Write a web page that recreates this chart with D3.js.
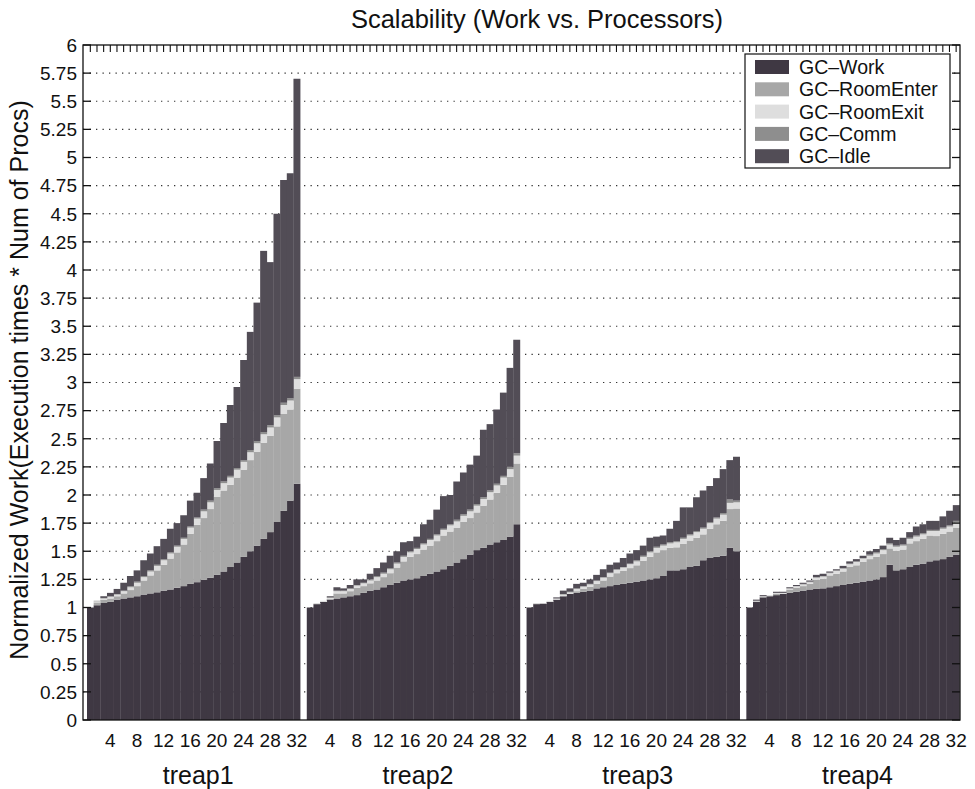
<!DOCTYPE html>
<html><head><meta charset="utf-8">
<script src="https://cdn.jsdelivr.net/npm/d3@7"></script>
<style>body{margin:0;background:#fff}svg{display:block}text{font-family:"Liberation Sans",Arial,Helvetica,sans-serif;fill:#111}</style>
</head><body><svg id="c" width="975" height="789"></svg>
<script>
// ---------- data ----------
const groups = ["treap1", "treap2", "treap3", "treap4"];
const procs = [1,2,3,4,5,6,7,8,9,10,11,12,13,14,15,16,17,18,19,20,21,22,23,24,25,26,27,28,29,30,31,32];
const procTickLabels = [4, 8, 12, 16, 20, 24, 28, 32];
const yTickValues = [0,0.25,0.5,0.75,1,1.25,1.5,1.75,2,2.25,2.5,2.75,3,3.25,3.5,3.75,4,4.25,4.5,4.75,5,5.25,5.5,5.75,6];
const seriesNames = ["GC-Work", "GC-RoomEnter", "GC-RoomExit", "GC-Comm", "GC-Idle"];
const seriesColors = ["#3f3843", "#a7a7a7", "#dedede", "#8e8e8e", "#524d56"];

const work1  = [1.00,1.02,1.04,1.05,1.07,1.08,1.09,1.10,1.115,1.125,1.135,1.15,1.16,1.175,1.19,1.21,1.225,1.245,1.265,1.29,1.32,1.36,1.40,1.45,1.50,1.55,1.61,1.67,1.76,1.86,1.95,2.10];
const enter1 = [0,0.025,0.03,0.03,0.03,0.045,0.065,0.09,0.125,0.16,0.195,0.23,0.275,0.315,0.37,0.445,0.51,0.55,0.61,0.695,0.72,0.73,0.755,0.775,0.81,0.835,0.855,0.855,0.85,0.86,0.81,0.845];
const exit1  = [0,0.01,0.01,0.015,0.015,0.02,0.025,0.03,0.03,0.035,0.04,0.04,0.045,0.05,0.05,0.055,0.055,0.06,0.06,0.06,0.065,0.065,0.07,0.07,0.07,0.075,0.075,0.075,0.08,0.08,0.08,0.085];
const comm1  = [0,0.005,0.005,0.005,0.005,0.005,0.01,0.01,0.01,0.01,0.01,0.01,0.01,0.01,0.01,0.01,0.01,0.015,0.015,0.015,0.015,0.015,0.015,0.015,0.02,0.02,0.02,0.02,0.02,0.02,0.02,0.02];
const idle1  = [0,0,0.015,0.03,0.045,0.07,0.09,0.10,0.14,0.15,0.165,0.18,0.21,0.20,0.20,0.23,0.22,0.28,0.33,0.42,0.52,0.63,0.72,0.89,1.05,1.23,1.61,1.45,1.79,1.98,2.00,2.65];

const work2  = [1.00,1.03,1.05,1.07,1.08,1.09,1.10,1.11,1.13,1.15,1.16,1.18,1.20,1.22,1.24,1.25,1.26,1.28,1.30,1.32,1.34,1.37,1.40,1.43,1.47,1.51,1.53,1.56,1.58,1.60,1.63,1.74];
const enter2 = [0,0,0,0.005,0.045,0.035,0.045,0.065,0.06,0.065,0.08,0.09,0.105,0.135,0.17,0.20,0.215,0.235,0.25,0.27,0.30,0.305,0.31,0.33,0.325,0.335,0.375,0.40,0.44,0.49,0.53,0.54];
const exit2  = [0,0.01,0.01,0.01,0.02,0.02,0.02,0.02,0.025,0.025,0.03,0.03,0.035,0.035,0.04,0.04,0.045,0.045,0.05,0.05,0.05,0.055,0.055,0.055,0.06,0.06,0.06,0.065,0.065,0.065,0.07,0.07];
const comm2  = [0,0,0,0.005,0.005,0.005,0.005,0.005,0.005,0.01,0.01,0.01,0.01,0.01,0.01,0.01,0.01,0.01,0.01,0.01,0.01,0.01,0.015,0.015,0.015,0.015,0.015,0.015,0.015,0.015,0.02,0.02];
const idle2  = [0,0,0,0.01,0.03,0.02,0.03,0.05,0.03,0.05,0.07,0.09,0.11,0.10,0.12,0.09,0.10,0.17,0.17,0.22,0.29,0.26,0.34,0.37,0.40,0.43,0.60,0.59,0.66,0.74,0.88,1.01];

const work3  = [1.00,1.03,1.035,1.05,1.07,1.10,1.12,1.13,1.14,1.15,1.17,1.18,1.19,1.20,1.21,1.22,1.23,1.24,1.25,1.26,1.28,1.33,1.33,1.34,1.36,1.37,1.42,1.44,1.45,1.46,1.53,1.50];
const enter3 = [0,0.005,0,0,0,0,0,0.015,0.025,0.035,0.04,0.06,0.085,0.105,0.115,0.13,0.145,0.175,0.20,0.23,0.23,0.20,0.205,0.225,0.235,0.25,0.23,0.26,0.29,0.31,0.345,0.38];
const exit3  = [0,0.005,0.005,0.01,0.01,0.015,0.015,0.02,0.02,0.02,0.025,0.025,0.03,0.03,0.03,0.035,0.035,0.035,0.04,0.04,0.04,0.04,0.045,0.045,0.045,0.05,0.05,0.05,0.05,0.055,0.055,0.055];
const comm3  = [0,0,0,0,0,0.005,0.005,0.005,0.005,0.005,0.005,0.005,0.005,0.005,0.005,0.005,0.01,0.01,0.01,0.01,0.01,0.01,0.01,0.01,0.01,0.01,0.01,0.01,0.01,0.015,0.03,0.015];
const idle3  = [0,0,0,0,0.01,0.03,0.03,0.04,0.03,0.04,0.05,0.07,0.07,0.06,0.08,0.09,0.09,0.09,0.12,0.09,0.08,0.12,0.18,0.27,0.24,0.30,0.33,0.32,0.35,0.39,0.35,0.39];

const work4  = [1.00,1.05,1.09,1.10,1.11,1.12,1.13,1.14,1.15,1.16,1.165,1.17,1.18,1.19,1.20,1.21,1.22,1.23,1.24,1.25,1.27,1.38,1.33,1.34,1.36,1.38,1.39,1.41,1.42,1.43,1.45,1.47];
const enter4 = [0,0.005,0.005,0.005,0.01,0,0.03,0.035,0.04,0.05,0.08,0.085,0.105,0.11,0.12,0.15,0.155,0.175,0.19,0.20,0.205,0.145,0.175,0.175,0.21,0.21,0.22,0.23,0.215,0.225,0.225,0.24];
const exit4  = [0,0.005,0.005,0.005,0.01,0.01,0.01,0.015,0.015,0.015,0.02,0.02,0.02,0.025,0.025,0.025,0.03,0.03,0.03,0.03,0.035,0.035,0.035,0.035,0.04,0.04,0.04,0.04,0.045,0.045,0.045,0.045];
const comm4  = [0,0,0,0,0,0,0,0,0.005,0.005,0.005,0.005,0.005,0.005,0.005,0.005,0.005,0.005,0.01,0.01,0.01,0.01,0.01,0.01,0.01,0.01,0.01,0.01,0.01,0.01,0.01,0.015];
const idle4  = [0,0.01,0.01,0,0.01,0.01,0.01,0.01,0.01,0.01,0.02,0.02,0.01,0.01,0.02,0.02,0.02,0.02,0.03,0.03,0.03,0.05,0.05,0.06,0.05,0.08,0.08,0.08,0.08,0.10,0.13,0.14];

// ---------- build table ----------
const seriesByGroup = [
  [work1, enter1, exit1, comm1, idle1],
  [work2, enter2, exit2, comm2, idle2],
  [work3, enter3, exit3, comm3, idle3],
  [work4, enter4, exit4, comm4, idle4]
];
const slotsPerGroup = procs.length + 1;
const rows = [];
groups.forEach((g, gi) => {
  procs.forEach((p, pi) => {
    const r = { group: g, proc: p, slot: gi * slotsPerGroup + pi };
    seriesNames.forEach((s, si) => { r[s] = seriesByGroup[gi][si][pi]; });
    rows.push(r);
  });
});
const stacked = d3.stack().keys(seriesNames)(rows);

// ---------- layout ----------
const L = 83, R = 960, T = 45, B = 720;
const svg = d3.select("#c");
const x = d3.scaleLinear().domain([-1.1, 130.58]).range([L, R]);
const y = d3.scaleLinear().domain([0, 6]).range([B, T]);
const bw = x(1) - x(0);

// grid
svg.append("g").selectAll("line").data(yTickValues.filter(v => v > 0 && v < 6)).join("line")
  .attr("x1", L).attr("x2", R).attr("y1", d => y(d)).attr("y2", d => y(d))
  .attr("stroke", "#333").attr("stroke-width", 1.2).attr("stroke-dasharray", "1.3,5.2");

// bars
svg.append("g").selectAll("g").data(stacked).join("g")
  .attr("fill", (d, i) => seriesColors[i])
  .selectAll("rect").data(d => d).join("rect")
  .attr("x", d => x(d.data.slot) - bw / 2)
  .attr("width", bw + 0.3)
  .attr("y", d => y(d[1]))
  .attr("height", d => Math.max(0, y(d[0]) - y(d[1])));

// box
svg.append("rect").attr("x", L).attr("y", T).attr("width", R - L).attr("height", B - T)
  .attr("fill", "none").attr("stroke", "#111").attr("stroke-width", 1.3);

// y ticks (inward, both sides)
const yt = svg.append("g");
yt.selectAll("line.l").data(yTickValues).join("line").attr("class", "l")
  .attr("x1", L).attr("x2", L + 8).attr("y1", d => y(d)).attr("y2", d => y(d)).attr("stroke", "#111").attr("stroke-width", 1.3);
yt.selectAll("line.r").data(yTickValues).join("line").attr("class", "r")
  .attr("x1", R).attr("x2", R - 8).attr("y1", d => y(d)).attr("y2", d => y(d)).attr("stroke", "#111").attr("stroke-width", 1.3);
yt.selectAll("text").data(yTickValues).join("text")
  .attr("x", L - 6).attr("y", d => y(d)).attr("dy", "0.36em").attr("text-anchor", "end")
  .attr("font-size", 19).text(d => String(d));

// x ticks along top (every slot)
const allSlots = d3.range(0, groups.length * slotsPerGroup - 1);
svg.append("g").selectAll("line").data(allSlots).join("line")
  .attr("x1", d => x(d)).attr("x2", d => x(d)).attr("y1", T).attr("y2", T + 7)
  .attr("stroke", "#111").attr("stroke-width", 1.1);

// x tick labels
const xl = svg.append("g");
groups.forEach((g, gi) => {
  xl.selectAll(null).data(procTickLabels).join("text")
    .attr("x", p => x(gi * slotsPerGroup + p - 1)).attr("y", 747)
    .attr("text-anchor", "middle").attr("font-size", 19).text(p => p);
});
// group labels
svg.append("g").selectAll("text").data(groups).join("text")
  .attr("x", (g, gi) => x(gi * slotsPerGroup + 16.2)).attr("y", 784)
  .attr("text-anchor", "middle").attr("font-size", 25).text(g => g);

// title
svg.append("text").attr("x", 537).attr("y", 28).attr("text-anchor", "middle")
  .attr("font-size", 25.5).text("Scalability (Work vs. Processors)");
// y label
svg.append("text").attr("transform", "translate(28,380) rotate(-90)").attr("text-anchor", "middle")
  .attr("font-size", 25).text("Normalized Work(Execution times * Num of Procs)");

// legend
const lg = svg.append("g");
lg.append("rect").attr("x", 745).attr("y", 54).attr("width", 205).attr("height", 114)
  .attr("fill", "#fff").attr("stroke", "#111").attr("stroke-width", 1.2);
seriesNames.forEach((s, i) => {
  const cy = 67 + i * 22.3;
  lg.append("rect").attr("x", 755).attr("y", cy - 7).attr("width", 34).attr("height", 14).attr("fill", seriesColors[i]);
  lg.append("text").attr("x", 799).attr("y", cy).attr("dy", "0.36em").attr("font-size", 19.5).text(s.replace("-", "\u2013"));
});
</script>
</body></html>
